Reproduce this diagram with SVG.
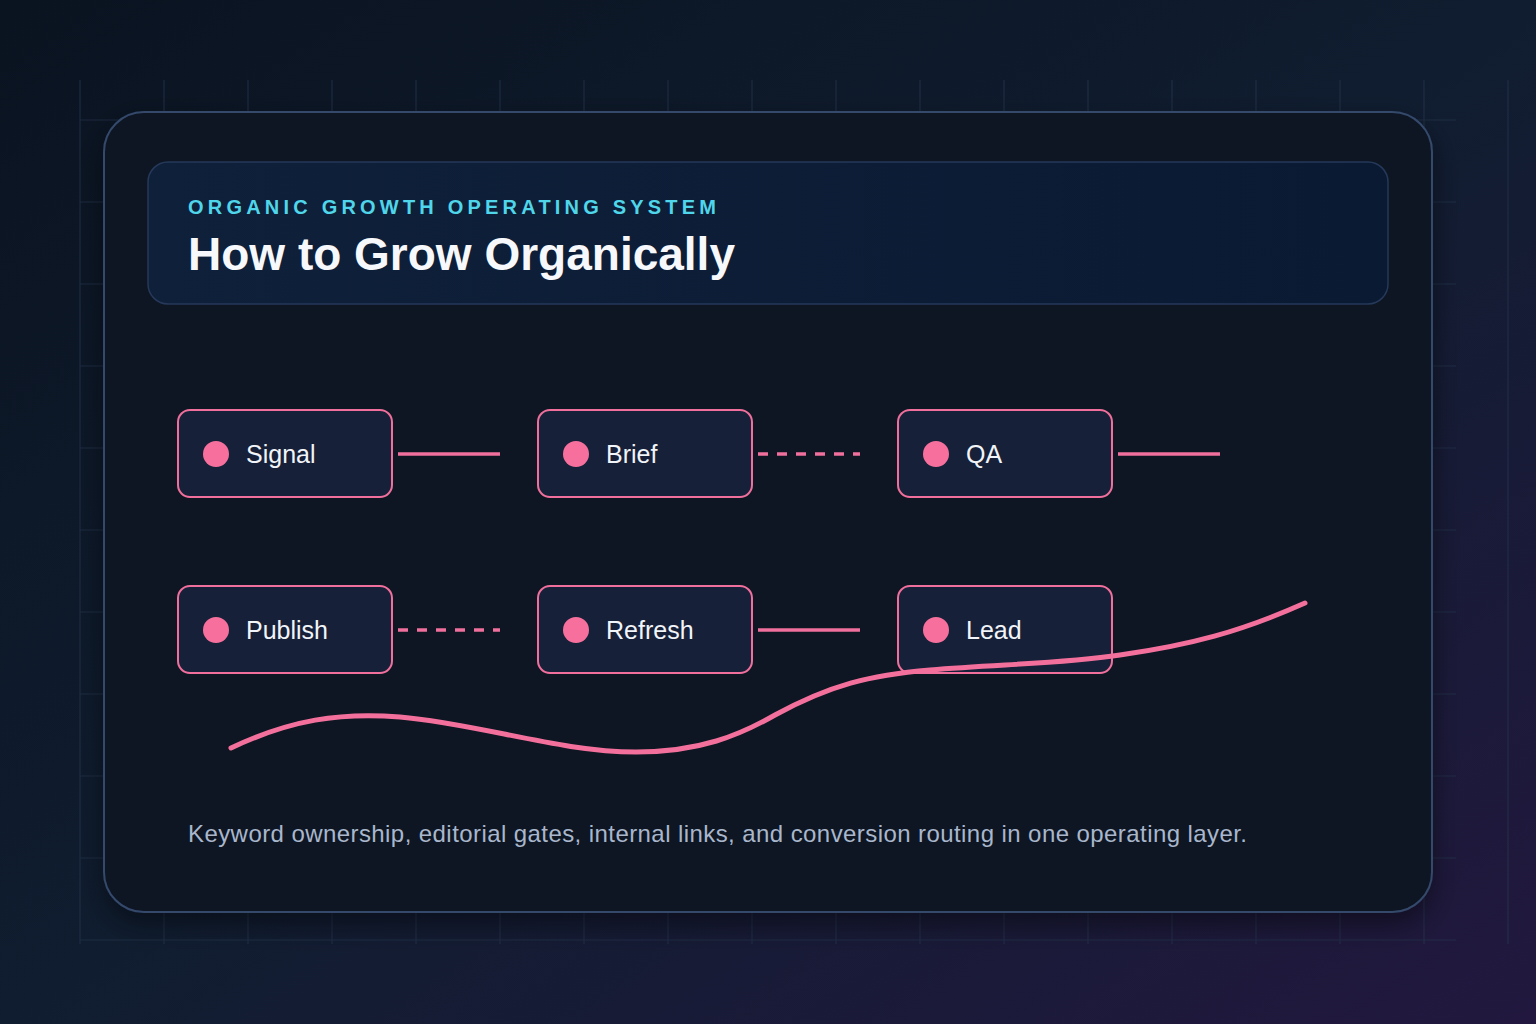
<svg xmlns="http://www.w3.org/2000/svg" width="1536" height="1024" viewBox="0 0 1536 1024">
<defs>
<linearGradient id="bg" x1="0" y1="0" x2="1" y2="1">
<stop offset="0" stop-color="#0a1320"/><stop offset="0.5" stop-color="#101d30"/><stop offset="1" stop-color="#22183f"/>
</linearGradient>
<linearGradient id="hdr" x1="0" y1="0" x2="1" y2="0">
<stop offset="0" stop-color="#0f203a"/><stop offset="1" stop-color="#0b1a33"/>
</linearGradient>
<filter id="sh" x="-10%" y="-10%" width="120%" height="130%"><feDropShadow dx="0" dy="12" stdDeviation="14" flood-color="#000" flood-opacity="0.45"/></filter>
<style>
.grid{stroke:#25344d;stroke-width:1.2;opacity:0.7}
.node{fill:#162038;stroke:#f06f9c;stroke-width:2}
.dot{fill:#f7709d}
.lbl{font-family:"Liberation Sans",Arial,sans-serif;font-size:25px;fill:#f1f4f9}
.c{stroke:#f06f9c;stroke-width:3.5;fill:none}
.d{stroke-dasharray:10 9}
</style>
</defs>
<rect width="1536" height="1024" fill="url(#bg)"/>
<g class="grid">
<path d="M80 80V944M164 80V944M248 80V944M332 80V944M416 80V944M500 80V944M584 80V944M668 80V944M752 80V944M836 80V944M920 80V944M1004 80V944M1088 80V944M1172 80V944M1256 80V944M1340 80V944M1424 80V944M1508 80V944"/>
<path d="M80 120H1456M80 202H1456M80 284H1456M80 366H1456M80 448H1456M80 530H1456M80 612H1456M80 694H1456M80 776H1456M80 858H1456M80 940H1456"/>
</g>
<rect x="104" y="112" width="1328" height="800" rx="40" fill="#0e1524" stroke="#34496a" stroke-width="2" filter="url(#sh)"/>
<g id="header">
<rect x="148" y="162" width="1240" height="142" rx="20" fill="url(#hdr)" stroke="#26395a" stroke-width="1.5"/>
<text x="188" y="214" font-family="Liberation Sans,Arial,sans-serif" font-size="20" font-weight="bold" letter-spacing="4" textLength="532" fill="#4fd6ea">ORGANIC GROWTH OPERATING SYSTEM</text>
<text x="188" y="270" font-family="Liberation Sans,Arial,sans-serif" font-size="46" font-weight="bold" fill="#f6f8fb">How to Grow Organically</text>
</g>
<g id="connectors">
<path class="c" d="M398 454H500"/>
<path class="c d" d="M758 454H860"/>
<path class="c" d="M1118 454H1220"/>
<path class="c d" d="M398 630H500"/>
<path class="c" d="M758 630H860"/>
</g>
<g id="n-signal"><rect class="node" x="178" y="410" width="214" height="87" rx="12"/><circle class="dot" cx="216" cy="454" r="13"/><text class="lbl" x="246" y="463">Signal</text></g>
<g id="n-brief"><rect class="node" x="538" y="410" width="214" height="87" rx="12"/><circle class="dot" cx="576" cy="454" r="13"/><text class="lbl" x="606" y="463">Brief</text></g>
<g id="n-qa"><rect class="node" x="898" y="410" width="214" height="87" rx="12"/><circle class="dot" cx="936" cy="454" r="13"/><text class="lbl" x="966" y="463">QA</text></g>
<g id="n-publish"><rect class="node" x="178" y="586" width="214" height="87" rx="12"/><circle class="dot" cx="216" cy="630" r="13"/><text class="lbl" x="246" y="639">Publish</text></g>
<g id="n-refresh"><rect class="node" x="538" y="586" width="214" height="87" rx="12"/><circle class="dot" cx="576" cy="630" r="13"/><text class="lbl" x="606" y="639">Refresh</text></g>
<g id="n-lead"><rect class="node" x="898" y="586" width="214" height="87" rx="12"/><circle class="dot" cx="936" cy="630" r="13"/><text class="lbl" x="966" y="639">Lead</text></g>
<path d="M231 748C290 720 340 712 400 717C480 724 560 752 636 752C700 752 740 735 775 715C830 685 870 675 930 670C1000 664 1060 664 1120 655C1190 645 1240 632 1305 603" fill="none" stroke="#f4709c" stroke-width="5" stroke-linecap="round"/>
<text x="188" y="842" font-family="Liberation Sans,Arial,sans-serif" font-size="24" textLength="1059" fill="#a9b6cc">Keyword ownership, editorial gates, internal links, and conversion routing in one operating layer.</text>
</svg>
